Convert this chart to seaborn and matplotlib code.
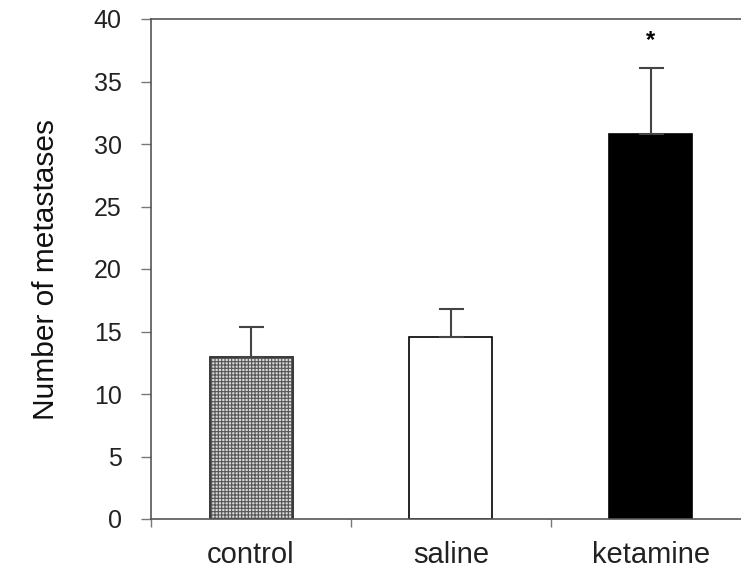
import matplotlib
matplotlib.use("Agg")
import matplotlib.pyplot as plt
import seaborn as sns
import numpy as np

categories = ["control", "saline", "ketamine"]
means = [13.0, 14.6, 30.8]
upper_err = [2.4, 2.2, 5.3]
star_y = 38.3

sns.set_theme(style="white")
plt.rcParams["font.family"] = ["Liberation Sans", "DejaVu Sans"]
plt.rcParams["hatch.linewidth"] = 0.8

fig = plt.figure(figsize=(7.41, 5.70), dpi=100)
# the plotting frame runs past the right edge of the canvas
ax = fig.add_axes([151 / 741, 51 / 570, 600 / 741, 500 / 570])

sns.barplot(x=categories, y=means, ax=ax, width=0.415,
            palette=["#d8d8d8", "white", "black"], edgecolor="black",
            linewidth=1.2, saturation=1)

bars = ax.patches
bars[0].set_hatch("+++++")
bars[0].set_edgecolor("#555555")
ax.bar(0, means[0], width=0.415, facecolor="none", edgecolor="#333333", linewidth=1.2)

x = np.arange(len(categories))
ax.errorbar(x, means, yerr=[np.zeros(3), upper_err], fmt="none",
            ecolor="#444444", elinewidth=1.5, capsize=9, capthick=1.5)
ax.text(2, star_y, "*", ha="center", va="center", fontsize=17,
        fontweight="bold", color="black")

ax.set_ylim(0, 40)
ax.set_xlim(-0.5, 2.5)
ax.set_yticks(range(0, 41, 5))
ax.set_xticks([-0.5, 0.5, 1.5], minor=True)
ax.set_xticks(x)
ax.set_xticklabels(categories)
ax.tick_params(axis="x", which="major", length=0, labelsize=21, pad=16, colors="#222222")
ax.tick_params(axis="x", which="minor", length=6, width=1, color="#777777", direction="out", bottom=True)
ax.tick_params(axis="y", length=7, width=1, color="#777777", labelsize=18, pad=14,
               direction="out", left=True, labelcolor="#222222")
ax.set_ylabel("Number of metastases", fontsize=21.5, labelpad=0, color="#111111")
ax.yaxis.set_label_coords(-0.151, 0.5)
ax.set_xlabel("")

for side, sp in ax.spines.items():
    sp.set_visible(True)
    sp.set_color("#555555")
    sp.set_linewidth(1.2)

fig.savefig("out.png", dpi=100, facecolor="white")
